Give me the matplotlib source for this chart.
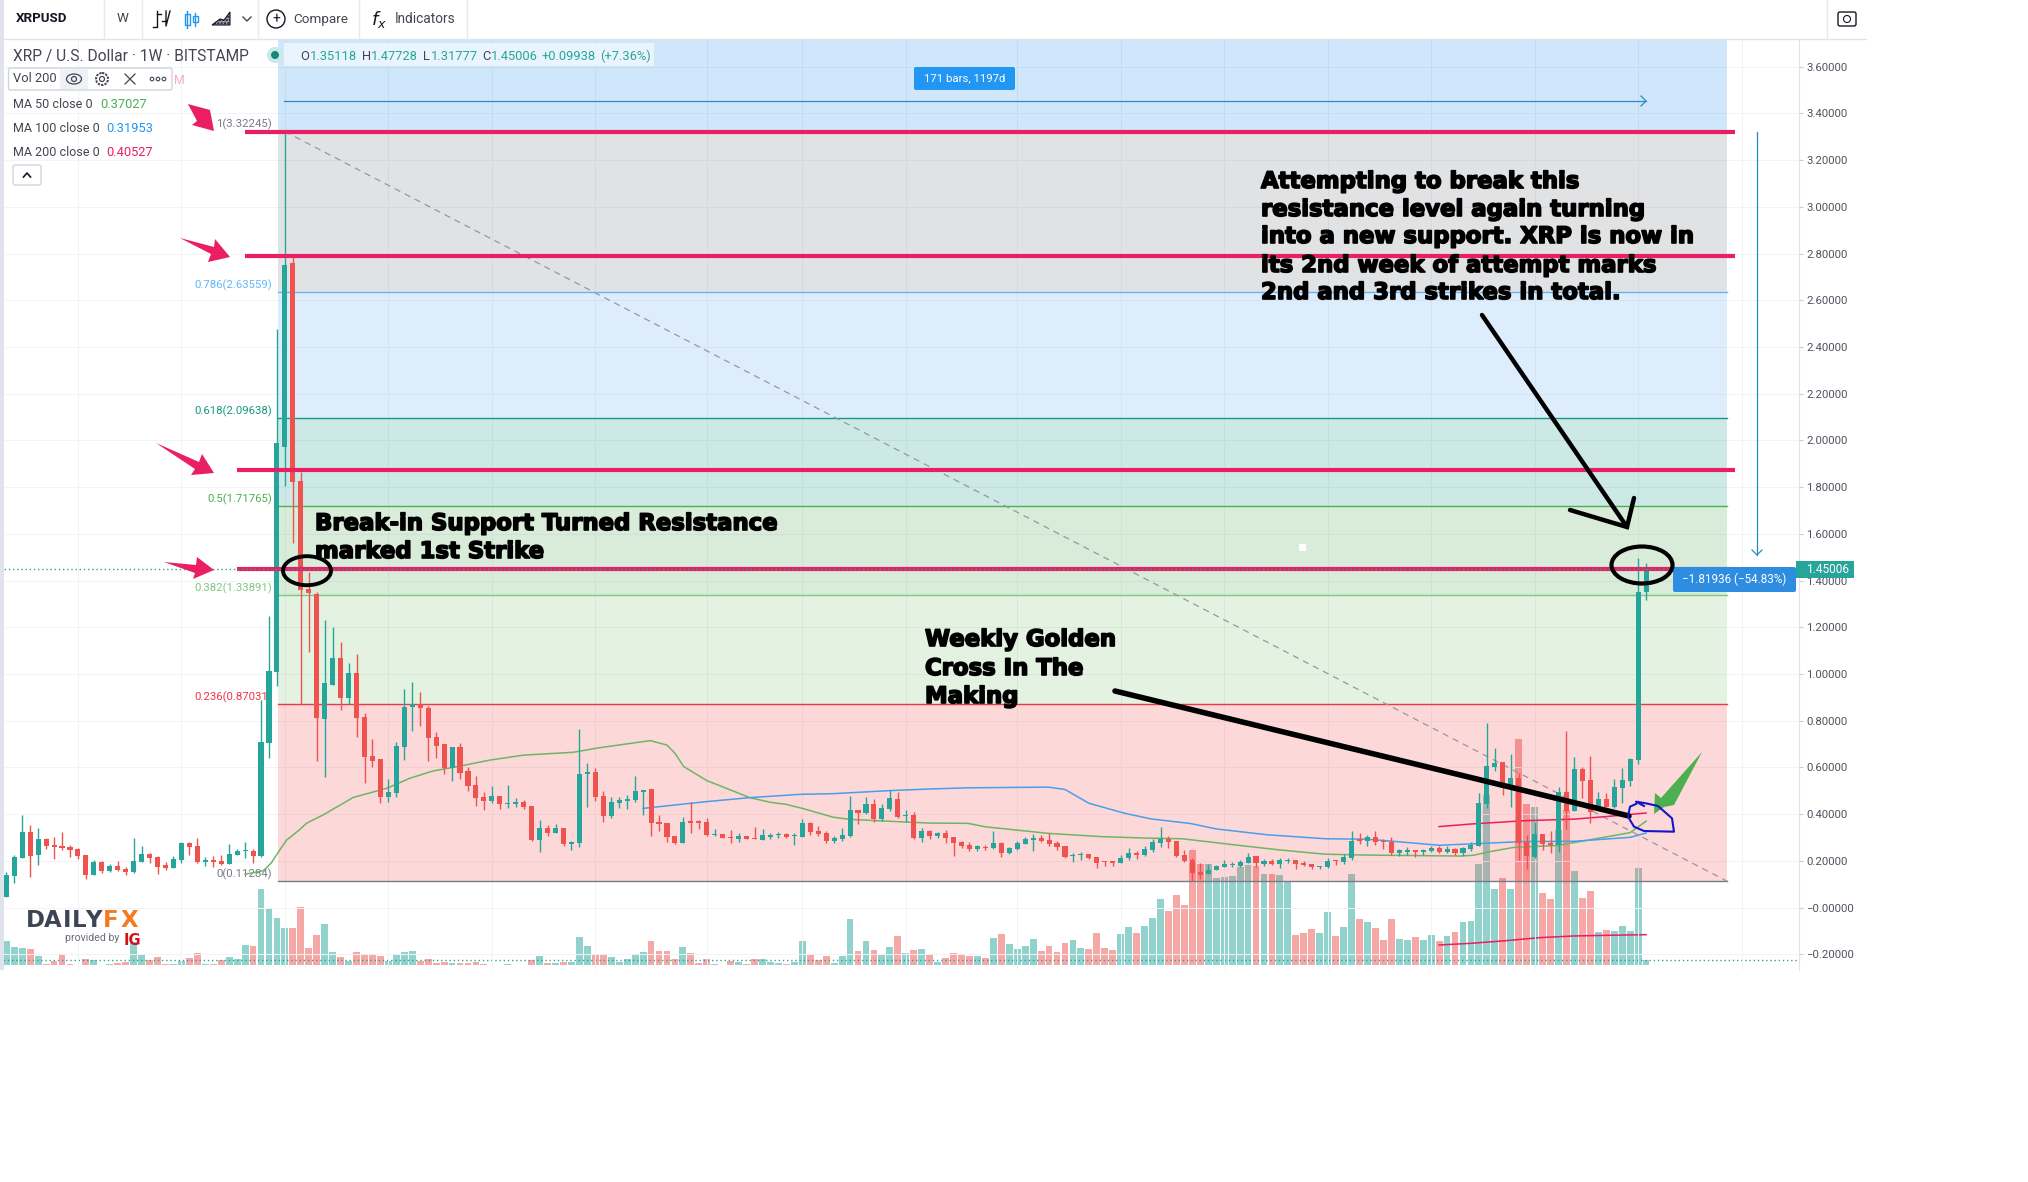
# XRPUSD weekly chart with fib levels and hand drawn notes
import numpy as np
import matplotlib
matplotlib.use('Agg')
import matplotlib.pyplot as plt
import matplotlib.patheffects as pe
from matplotlib.patches import Ellipse, FancyBboxPatch, Polygon, Rectangle, Circle

plt.rcParams['font.family'] = ['Roboto', 'DejaVu Sans']

# Weekly candles
opens = [.047,.137,.214,.322,.225,.294,.267,.262,.259,.251,
         .224,.140,.194,.158,.178,.165,.154,.195,.230,.217,
         .181,.171,.204,.277,.264,.197,.200,.200,.188,.225,
         .243,.244,.221,.706,1.01,1.972,2.76,1.826,1.364,1.344,
         .809,.953,1.069,.899,1.005,.816,.649,.636,.475,.492,
         .689,.860,.870,.855,.731,.701,.598,.688,.584,.525,
         .474,.458,.478,.445,.444,.452,.435,.291,.340,.320,
         .341,.274,.278,.572,.581,.478,.392,.449,.458,.461,
         .497,.508,.367,.364,.307,.278,.367,.368,.367,.311,
         .315,.301,.294,.307,.298,.291,.304,.310,.315,.306,
         .302,.362,.328,.318,.284,.294,.307,.418,.405,.444,
         .378,.421,.465,.391,.397,.298,.328,.308,.318,.303,
         .282,.268,.250,.260,.257,.275,.233,.251,.273,.291,
         .297,.290,.278,.264,.220,.224,.230,.215,.197,.195,
         .193,.211,.235,.224,.247,.277,.294,.285,.225,.204,
         .153,.143,.160,.175,.182,.180,.193,.221,.185,.200,
         .187,.198,.203,.191,.187,.174,.175,.203,.197,.213,
         .291,.287,.301,.287,.283,.232,.238,.247,.240,.242,
         .255,.238,.251,.235,.251,.265,.445,.604,.624,.512,
         .555,.280,.218,.314,.275,.268,.494,.414,.592,.546,
         .432,.465,.432,.512,.543,.632,1.35118]
closes = [.140,.215,.322,.222,.294,.264,.260,.255,.247,.221,
          .140,.194,.158,.178,.161,.154,.200,.230,.214,.175,
          .168,.208,.278,.261,.195,.200,.197,.185,.228,.241,
          .246,.221,.709,1.013,1.988,2.752,1.823,1.36,1.348,.813,
          .960,1.069,.899,1.005,.813,.646,.629,.475,.495,.692,
          .859,.871,.856,.728,.694,.598,.688,.578,.522,.471,
          .458,.477,.444,.448,.452,.431,.291,.340,.321,.340,
          .274,.281,.572,.581,.475,.392,.452,.461,.466,.499,
          .504,.364,.358,.302,.275,.367,.364,.364,.311,.315,
          .300,.297,.307,.294,.294,.311,.312,.312,.302,.310,
          .362,.322,.314,.285,.297,.311,.418,.407,.444,.378,
          .427,.469,.386,.395,.298,.327,.307,.321,.298,.278,
          .262,.250,.264,.255,.275,.235,.255,.275,.294,.297,
          .284,.274,.260,.217,.225,.228,.211,.193,.194,.193,
          .213,.233,.227,.250,.281,.295,.281,.221,.200,.150,
          .141,.161,.178,.187,.187,.195,.215,.193,.200,.188,
          .205,.205,.185,.184,.175,.177,.198,.198,.217,.284,
          .287,.302,.282,.280,.234,.245,.247,.240,.248,.257,
          .238,.252,.235,.255,.268,.448,.606,.618,.512,.554,
          .275,.223,.314,.273,.268,.494,.414,.594,.544,.411,
          .465,.432,.515,.546,.636,1.35118,1.45006]
highs = [.151,.225,.397,.354,.339,.297,.304,.322,.268,.257,
         .224,.204,.201,.185,.200,.175,.297,.264,.232,.221,
         .195,.221,.281,.281,.297,.215,.221,.225,.272,.250,
         .280,.252,.889,1.248,2.477,3.322,2.786,1.866,1.438,1.35,
         1.231,1.200,1.136,1.049,1.084,.832,.722,.636,.552,.709,
         .936,.966,.923,.863,.752,.701,.688,.706,.604,.564,
         .494,.522,.478,.525,.469,.461,.435,.375,.354,.358,
         .341,.286,.765,.621,.597,.499,.472,.472,.482,.564,
         .504,.508,.396,.364,.307,.389,.451,.375,.382,.337,
         .315,.332,.318,.307,.347,.337,.321,.324,.318,.321,
         .380,.368,.349,.329,.307,.340,.478,.418,.472,.464,
         .444,.504,.494,.418,.408,.340,.331,.324,.332,.303,
         .287,.281,.268,.267,.328,.282,.258,.285,.304,.315,
         .311,.318,.285,.264,.233,.237,.230,.215,.201,.201,
         .225,.254,.244,.264,.292,.347,.307,.285,.247,.214,
         .190,.187,.184,.204,.195,.204,.233,.221,.207,.209,
         .214,.211,.203,.198,.187,.177,.211,.206,.230,.328,
         .321,.310,.328,.292,.302,.251,.260,.247,.252,.262,
         .262,.262,.255,.258,.281,.492,.792,.682,.624,.656,
         .578,.311,.368,.314,.328,.515,.758,.646,.601,.649,
         .494,.489,.551,.596,.639,1.498,1.47728]
lows = [.047,.107,.214,.133,.182,.251,.208,.247,.218,.210,
        .124,.140,.150,.154,.157,.140,.150,.195,.190,.144,
        .161,.171,.192,.227,.192,.180,.175,.182,.188,.225,
        .212,.192,.215,.64,.95,1.806,1.56,.872,1.096,.628,
        .561,.953,.848,.872,.732,.535,.604,.449,.454,.472,
        .632,.756,.779,.629,.639,.574,.542,.551,.501,.435,
        .418,.449,.422,.425,.432,.422,.285,.240,.308,.318,
        .265,.247,.261,.432,.458,.368,.385,.428,.422,.454,
        .397,.307,.328,.281,.272,.278,.319,.338,.307,.307,
        .297,.278,.282,.292,.292,.291,.295,.300,.300,.268,
        .302,.311,.307,.278,.278,.287,.304,.358,.401,.368,
        .372,.415,.382,.368,.294,.282,.294,.298,.278,.221,
        .254,.243,.244,.247,.251,.218,.230,.247,.273,.241,
        .280,.264,.247,.213,.195,.204,.208,.170,.178,.178,
        .193,.204,.210,.223,.240,.261,.255,.218,.195,.114,
        .123,.143,.160,.175,.174,.175,.193,.175,.178,.183,
        .171,.191,.165,.178,.167,.167,.171,.183,.188,.204,
        .274,.265,.268,.250,.224,.223,.227,.215,.224,.237,
        .235,.232,.224,.221,.244,.265,.428,.586,.482,.432,
        .204,.166,.211,.247,.233,.237,.335,.414,.468,.364,
        .425,.432,.425,.447,.521,.615,1.31777]

# Volume has no scale on the chart, so relative units only
volumes = [71,53,50,47,26,2,12,32,2,1,
           19,16,1,2,5,8,68,29,14,23,
           2,4,13,20,35,2,4,14,23,17,
           59,56,227,170,140,110,110,173,50,89,
           122,38,23,12,38,32,29,26,12,29,
           38,41,11,17,6,8,5,5,5,8,
           2,1,1,2,1,1,14,26,5,5,
           8,8,83,56,29,30,24,9,18,33,
           39,72,42,42,18,54,36,6,18,3,
           1,12,9,3,18,18,9,6,3,9,
           72,30,15,27,6,27,138,42,72,45,
           30,54,87,36,45,48,30,9,21,36,
           30,27,27,21,81,93,63,48,57,78,
           42,57,39,66,75,51,48,96,51,45,
           93,114,96,117,141,198,162,210,180,345,
           303,303,261,264,267,294,300,297,273,273,
           270,252,90,96,108,96,159,87,114,273,
           138,129,111,75,138,78,75,84,75,90,
           72,87,99,129,132,303,510,228,261,228,
           678,483,474,216,198,405,465,282,201,222,
           99,105,102,117,102,291,15]

# Moving averages, read at a handful of bars
ma50_bars = [30,32.3,33.3,34.2,35.2,36.9,37.7,39.8,43.6,47.8,50.7,53.6,57,60.8,65,71.2,74.6,80.9,83,84,85.1,
             88,93.4,96,98,100,103.9,106,110.2,114,116,120.8,123,130.9,137.6,143,147.7,154.5,160,165.6,
             171,182.6,184.3,186.4,189.4,194.8,197.7,204,206]
ma50_vals = [.143,.158,.192,.239,.289,.335,.361,.397,.472,.511,.554,.585,.606,.632,.653,.665,.685,.715,.696,.661,.604,
             .544,.471,.451,.442,.425,.387,.378,.371,.365,.362,.361,.346,.318,.304,.298,.295,.268,.247,.229,
             .225,.221,.224,.240,.258,.266,.283,.321,.3703]
ma100_bars = [80,88,93.4,99.7,103.9,111,116,120.8,130.9,133,136,140.5,143.8,148.8,152,158.4,165.7,171,174.6,
              180,184,190.6,196.9,204,206]
ma100_vals = [.425,.454,.471,.485,.488,.501,.508,.513,.516,.506,.447,.404,.380,.360,.337,.312,.295,.293,.283,
              .267,.273,.283,.284,.301,.3195]
ma200_bars = [180,184,190.6,197,201,206]
ma200_vals = [.347,.358,.372,.379,.390,.405]
vol_ma_bars = [180,184,188.4,192.6,196.8,201,206]
vol_ma_vals = [60,65,73,82,87,89,91]

# Fib levels
fib_ratios = ['1', '0.786', '0.618', '0.5', '0.382', '0.236', '0']
fib_prices = [3.32245, 2.63559, 2.09638, 1.71765, 1.33891, 0.87031, 0.11284]
fib_colors = ['#787b86', '#64b5f6', '#159980', '#4caf50', '#81c784', '#f23645', '#787b86']
fib_fills = ['#696e78', '#5aa5f0', '#009182', '#41a041', '#73be69', '#f53c3c']

pink_levels = [3.32245, 2.79, 1.873, 1.448]
pink_starts = [30, 30, 29, 29]
last_price = 1.45006
price_ticks = np.arange(-0.2, 3.61, 0.2)
grid_bars = [9,22,35,48,61,74,88,100,113,127,140,153,166,179,192,205,218]

UP = '#26a69a'
DOWN = '#ef5350'
PINK = '#e91e63'
TEXT = '#434651'

W, H = 2028, 1182
fig = plt.figure(figsize=(W / 100, H / 100), dpi=100, facecolor='white')
rect = [0, (H - 970) / H, 1799 / W, (970 - 38.5) / H]
x_lim = (-6.3 / 7.96, (1799 - 6.3) / 7.96)

# volume pane sits under the price pane
ax_vol = fig.add_axes(rect, zorder=1)
ax = fig.add_axes(rect, zorder=2)
ax.patch.set_visible(False)
ax_vol.set_xlim(x_lim)
ax.set_xlim(x_lim)
ax_vol.set_ylim(-15, 2779.5)
ax.set_ylim(-0.2669, 3.7207)
ax_vol.axis('off')

bars = np.arange(len(opens))
o, h, l, c = map(np.array, (opens, highs, lows, closes))
colors = np.where(c >= o, UP, DOWN)

ax_vol.bar(bars, volumes, width=0.86, color=colors, alpha=0.5, linewidth=0)
ax_vol.plot(vol_ma_bars, vol_ma_vals, color=PINK, lw=1.1)
ax_vol.plot([-1, 226], [volumes[-1], volumes[-1]], color=UP, lw=1, ls=(0, (1, 2)))

# grid
for p in price_ticks:
    ax.axhline(p, color='#f1f3f7', lw=0.7, zorder=0.5)
for b in grid_bars:
    ax.axvline(b, color='#f1f3f7', lw=0.7, zorder=0.5)

# fib zones and levels
fib_x0, fib_x1 = 34.1, 216.2
ax.fill_between([fib_x0, fib_x1], 3.32245, 3.7207, color='#0f82eb', alpha=0.2, lw=0, zorder=1)
for k in range(len(fib_fills)):
    ax.fill_between([fib_x0, fib_x1], fib_prices[k + 1], fib_prices[k], color=fib_fills[k],
                    alpha=0.2, lw=0, zorder=1)
for ratio, price, col in zip(fib_ratios, fib_prices, fib_colors):
    ax.plot([fib_x0, fib_x1], [price, price], color=col, lw=1, zorder=1.5)
    ax.annotate(f'{ratio}({price:.5f})', (33.4, price), xytext=(0, 5), textcoords='offset points',
                ha='right', va='center', fontsize=8.2, color=col, zorder=1.6)
ax.plot([35, fib_x1], [3.32245, 0.11284], color='#9598a1', lw=0.9, ls=(0, (5, 4)), zorder=1.5)

# candles
ax.vlines(bars, l, h, colors=colors, lw=1, zorder=3)
body_low = np.minimum(o, c)
body_h = np.maximum(np.abs(c - o), 0.005)
ax.bar(bars, body_h, bottom=body_low, width=0.64, color=colors, linewidth=0, zorder=3)

# moving averages
ax.plot(ma50_bars, ma50_vals, color='#6cb665', lw=1.1, zorder=2.5)
ax.plot(ma100_bars, ma100_vals, color='#4a9eea', lw=1.1, zorder=2.5)
ax.plot(ma200_bars, ma200_vals, color=PINK, lw=1.1, zorder=2.5)

# the levels drawn by hand on the chart
for level, start in zip(pink_levels, pink_starts):
    ax.plot([start, 217.2], [level, level], color=PINK, lw=3, solid_capstyle='butt', zorder=4)
ax.axhline(last_price, color=UP, lw=1, ls=(0, (1, 2)), zorder=4.5)

# price scale
ax.set_xticks([])
ax.yaxis.tick_right()
ax.set_yticks(price_ticks)
ax.set_yticklabels([('\u2212' + f'{abs(p):.5f}') if p < 0.1 else f'{p:.5f}' for p in price_ticks])
ax.tick_params(axis='y', length=3, width=0.8, color='#c9ccd4', labelsize=8.2, labelcolor='#50535e', pad=2)
for name, s in ax.spines.items():
    s.set_visible(name == 'right')
    s.set_color('#e0e3eb')

# everything else is placed in picture pixels
ov = fig.add_axes([0, 0, 1, 1], zorder=5)
ov.set_xlim(0, W)
ov.set_ylim(H, 0)
ov.axis('off')

# toolbar
ov.add_patch(Rectangle((0, 0), 3.6, 970, color='#e0e3eb', lw=0))
ov.plot([0, 1866], [38.5, 38.5], color='#e0e3eb', lw=1)
for x in [104, 142, 258, 359, 467, 1827]:
    ov.plot([x, x], [0, 38], color='#e8eaef', lw=1)
ov.text(16, 19, 'XRPUSD', fontsize=9.6, fontweight='bold', color='#131722', va='center')
ov.text(123, 19, 'W', fontsize=9.6, color=TEXT, va='center', ha='center')
ov.plot([157, 157, 153], [11, 27, 27], color='#131722', lw=1)
ov.plot([166, 166, 170], [11, 26, 11], color='#131722', lw=1)
ov.plot([157, 161], [14, 14], color='#131722', lw=1)
ov.plot([162, 166], [21, 21], color='#131722', lw=1)
for x, y0, y1, top, bot in [(187, 11, 28, 14, 25), (195, 13, 26, 16, 22)]:
    ov.plot([x, x], [y0, y1], color='#2196f3', lw=1)
    ov.add_patch(Rectangle((x - 2.5, top), 5, bot - top, fc='none', ec='#2196f3', lw=1))
ov.add_patch(Polygon([(212, 25), (220, 19), (224, 20), (230, 12), (230, 25)], fc='#9598a1', ec='#131722', lw=0.8, hatch='.....'))
ov.plot([243, 247, 251], [17, 21, 17], color=TEXT, lw=1)
ov.add_patch(Circle((276, 19), 9, fc='none', ec='#131722', lw=1))
ov.text(276, 19, '+', fontsize=10, color='#131722', ha='center', va='center')
ov.text(293, 19, 'Compare', fontsize=9.7, color=TEXT, va='center')
ov.text(379, 19, r'$f_x$', fontsize=13, color='#131722', ha='center', va='center')
ov.text(395, 19, 'Indicators', fontsize=9.8, color=TEXT, va='center')
ov.add_patch(FancyBboxPatch((1838, 12), 18, 14, boxstyle='round,pad=0,rounding_size=2', fc='none', ec='#131722', lw=1))
ov.add_patch(Circle((1847, 19), 3.5, fc='none', ec='#131722', lw=0.8))

# legend rows
ov.text(13, 56, 'XRP / U.S. Dollar \u00b7 1W \u00b7 BITSTAMP', fontsize=11.2, color=TEXT, va='center')
ov.add_patch(Circle((275, 55), 8, fc='#c9e9e5', lw=0))
ov.add_patch(Circle((275, 55), 4, fc='#11897d', lw=0))
ov.add_patch(Rectangle((284, 43), 370, 23, fc='#eaf4fe', lw=0))
for x, s, col in [(300, 'O', TEXT), (310, '1.35118', UP), (362, 'H', TEXT), (371, '1.47728', UP),
                  (423, 'L', TEXT), (431, '1.31777', UP), (482, 'C', TEXT), (491, '1.45006', UP),
                  (542, '+0.09938', UP), (600, '(+7.36%)', UP)]:
    ov.text(x, 56.5, s, fontsize=9.3, color=col, va='center')
ov.add_patch(FancyBboxPatch((8.5, 68), 163.5, 22, boxstyle='round,pad=0,rounding_size=2', fc='white', ec='#d1d4dc', lw=1))
ov.add_patch(Rectangle((60, 69), 28, 20, fc='#eef1f6', lw=0))
ov.text(13, 79, 'Vol 200', fontsize=9.3, color=TEXT, va='center')
ov.add_patch(Ellipse((74, 79), 15, 10, fc='none', ec=TEXT, lw=0.9))
ov.add_patch(Circle((74, 79), 2.5, fc='none', ec=TEXT, lw=0.9))
ov.add_patch(Circle((102, 79), 6, fc='none', ec=TEXT, lw=1.4, ls=(0, (1.2, 0.6))))
ov.add_patch(Circle((102, 79), 2.5, fc='none', ec=TEXT, lw=0.9))
ov.plot([125, 135], [74, 84], color=TEXT, lw=0.9)
ov.plot([125, 135], [84, 74], color=TEXT, lw=0.9)
for dot_x in [152, 158, 164]:
    ov.add_patch(Circle((dot_x, 79), 1.8, fc='none', ec=TEXT, lw=0.8))
ov.text(174, 80, 'M', fontsize=8.8, color='#f8a8c4', va='center')
for y, name, val, col, vx in [(104, 'MA 50 close 0', '0.37027', '#4caf50', 100),
                              (128, 'MA 100 close 0', '0.31953', '#2196f3', 106),
                              (152, 'MA 200 close 0', '0.40527', PINK, 106)]:
    ov.text(13, y, name, fontsize=9, color=TEXT, va='center')
    ov.text(vx, y, val, fontsize=9.3, color=col, va='center')
ov.add_patch(FancyBboxPatch((13, 165), 28, 20, boxstyle='round,pad=0,rounding_size=2', fc='white', ec='#d1d4dc', lw=1))
ov.plot([23.5, 27, 30.5], [177, 173, 177], color='#131722', lw=1.2)

# date and price range tool
RANGE = '#2a8bc4'
ov.plot([284, 1646], [101, 101], color=RANGE, lw=0.9)
ov.plot([1641, 1646, 1641], [96, 101, 106], color=RANGE, lw=0.9)
ov.plot([1757, 1757], [132, 555], color=RANGE, lw=0.9)
ov.plot([1752, 1757, 1762], [550, 555, 550], color=RANGE, lw=0.9)
ov.add_patch(FancyBboxPatch((914, 67), 101, 23, boxstyle='round,pad=0,rounding_size=2', fc='#2196f3', lw=0))
ov.text(964.5, 78.5, '171 bars, 1197d', fontsize=8.2, color='white', ha='center', va='center')
ov.add_patch(FancyBboxPatch((1673, 567), 123, 25, boxstyle='round,pad=0,rounding_size=2', fc='#2e8de0', lw=0))
ov.text(1734, 579, '\u22121.81936 (\u221254.83%)', fontsize=8.4, color='white', ha='center', va='center')
ov.add_patch(Rectangle((1796, 561), 58, 17, fc=UP, lw=0))
ov.text(1806, 569.5, '1.45006', fontsize=8.6, color='white', va='center')

# pink arrows
for pts in [[(188, 104), (210, 110), (214, 131), (192, 125), (197, 121)],
            [(180, 238), (214, 247), (215, 239), (230, 257), (208, 262), (211, 254)],
            [(156, 443), (199, 462), (202, 454), (214, 473), (191, 475), (195, 469)],
            [(164, 562), (196, 565), (197, 557), (214, 570), (193, 579), (195, 573)]]:
    ov.add_patch(Polygon(pts, fc=PINK, lw=0))

# black marks
ov.add_patch(Ellipse((307, 570.7), 48, 29, fc='none', ec='black', lw=2.8))
ov.add_patch(Ellipse((1642, 565), 61, 37, fc='none', ec='black', lw=3))
ov.plot([1482, 1627], [315, 527], color='black', lw=3.2, solid_capstyle='round')
ov.plot([1570, 1627, 1634], [510, 527, 498], color='black', lw=3.2, solid_capstyle='round', solid_joinstyle='miter')
ov.plot([1115, 1629], [691, 816], color='black', lw=4, solid_capstyle='round')

# green arrow and blue scribble
ov.add_patch(Polygon([(1702, 752), (1674, 805), (1664, 807), (1654, 814), (1655, 793), (1661, 798)], fc='#4caf50', lw=0))
scribble_x = [610, 590, 615, 645, 680, 685, 610, 585, 570, 575, 590]
scribble_y = [858, 845, 850, 858, 895, 935, 933, 920, 890, 860, 852]
ov.plot([1400 + a / 2.5 for a in scribble_x], [520 + b / 3 for b in scribble_y], color='#1414c8', lw=1.5)
ov.add_patch(Rectangle((1299, 544), 7, 7, fc='white', lw=0))

# notes
heavy = [pe.withStroke(linewidth=1.2, foreground='black')]
notes = [(315, 530, 'Break-in Support Turned Resistance'),
         (315, 558, 'marked 1st Strike'),
         (1261, 188, 'Attempting to break this'),
         (1261, 216, 'resistance level again turning'),
         (1261, 243, 'into a new support. XRP is now in'),
         (1261, 272, 'its 2nd week of attempt marks'),
         (1261, 299, '2nd and 3rd strikes in total.'),
         (925, 646, 'Weekly Golden'),
         (925, 675, 'Cross In The'),
         (925, 703, 'Making')]
for x, y, s in notes:
    ov.text(x, y, s, family='DejaVu Sans', fontweight='bold', fontsize=16.4, color='black', va='baseline',
            path_effects=heavy)

# logo
for x, s, col in [(35.5, 'D', '#3d4555'), (52.5, 'A', '#3d4555'), (67.5, 'I', '#3d4555'), (79.5, 'L', '#3d4555'),
                  (93.5, 'Y', '#3d4555'), (110.5, 'F', '#f47a20'), (129, 'X', '#f47a20')]:
    ov.text(x, 927, s, family='DejaVu Sans', fontweight='bold', fontsize=16.5, color=col, va='baseline', ha='center')
ov.text(65, 941, 'provided by', fontsize=7.6, color='#6a6d78', va='baseline')
ov.text(124, 945, 'IG', family='DejaVu Sans', fontweight='bold', fontsize=10.5, color='#d0121b', va='baseline')

fig.savefig('out.png', dpi=100)
